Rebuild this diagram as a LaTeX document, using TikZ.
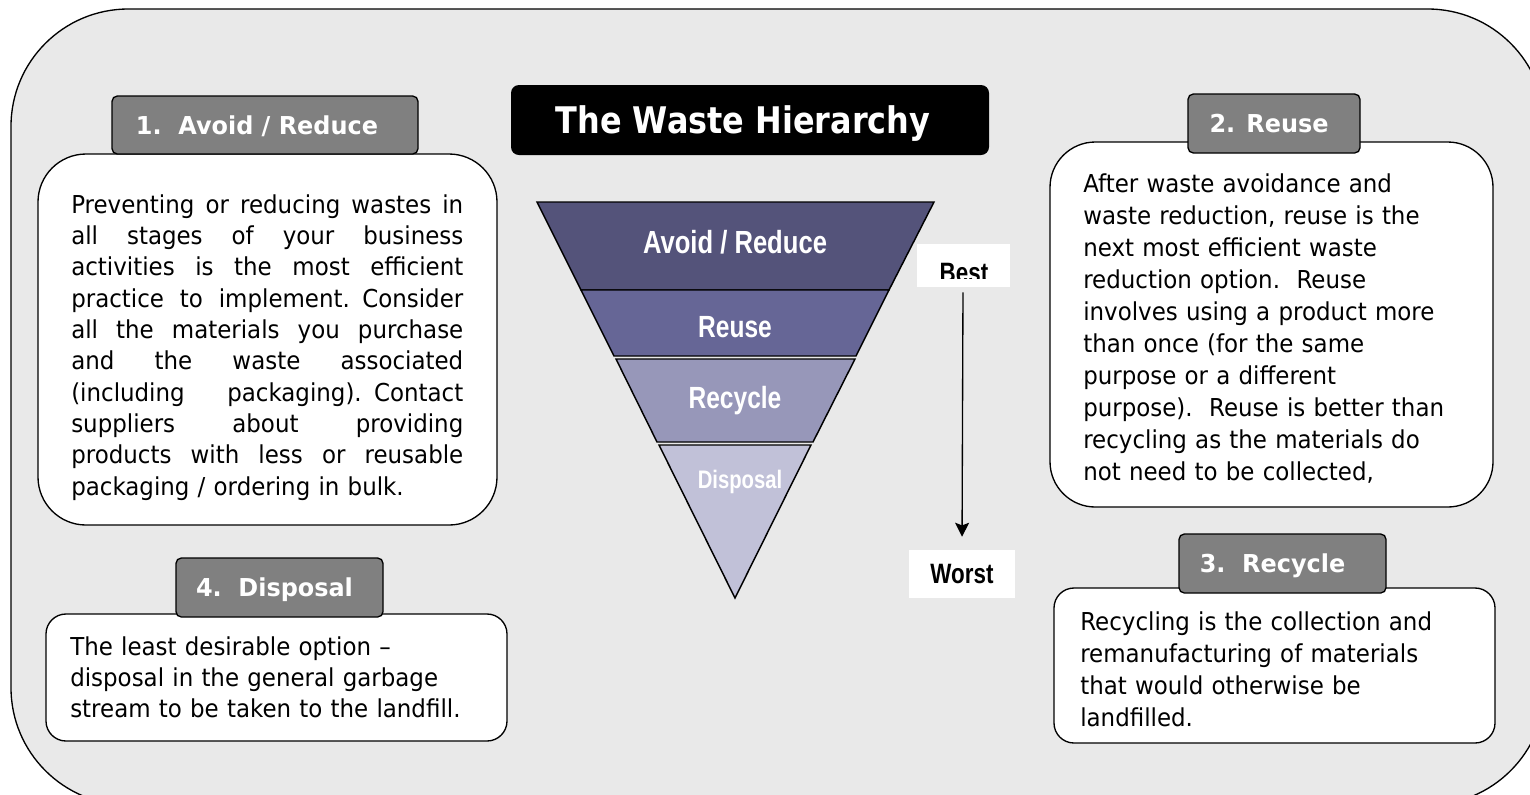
\documentclass[tikz,border=0pt]{standalone}
\usepackage{fontspec}
\usepackage{tikz}
\usetikzlibrary{arrows.meta,calc}
\newfontfamily\bodyfont[FakeStretch=0.93]{DejaVu Sans}
\newfontfamily\tabfont[FakeStretch=0.97]{DejaVu Sans}
\newfontfamily\titlefont[FakeStretch=0.87]{DejaVu Sans}
\newfontfamily\funnelfont[FakeStretch=0.8]{Liberation Sans}
\definecolor{bggray}{HTML}{E9E9E9}
\definecolor{tabgray}{HTML}{808080}
\definecolor{avoidcol}{HTML}{54537A}
\definecolor{reusecol}{HTML}{666696}
\definecolor{recyclecol}{HTML}{9797B9}
\definecolor{disposalcol}{HTML}{C1C1D8}
\newcommand{\jline}[1]{\leavevmode\hbox to 294pt{\spaceskip=0.3em plus 1fil\relax #1}}
\tikzset{
  panel/.style={draw, fill=white, line width=1pt, rounded corners=#1, inner sep=0pt},
  tab/.style={draw, fill=tabgray, line width=1pt, rounded corners=4pt, inner sep=0pt, text depth=0pt,
    text=white, font=\tabfont\bfseries\fontsize{18.5}{22}\selectfont},
  bodytext/.style={anchor=base west, inner sep=0pt, align=left, font=\bodyfont\fontsize{18.5}{#1}\selectfont},
  bodytext/.default=23.5,
  tier/.style={draw, line width=1.1pt},
  tiertext/.style={anchor=base, text=white, font=\funnelfont\bfseries\fontsize{#1}{#1}\selectfont},
  scale label/.style={fill=white, inner sep=0pt, font=\funnelfont\bfseries\fontsize{21}{21}\selectfont}
}

\begin{document}
\begin{tikzpicture}[x=0.75pt, y=-0.75pt]
    \useasboundingbox (0,0) rectangle (1530,794);
    % grey background panel
    \draw[fill=bggray, line width=1pt, rounded corners=88pt] (11,9) rectangle (1545,805);

    % 1. avoid / reduce
    \node[panel=36pt, minimum width=344.25pt, minimum height=278.25pt] (avoidbox) at (267.5,339.5) {};
    \node[tab, minimum width=229.5pt, minimum height=43.5pt] (avoidtab) at (265,125) {1.\ \ Avoid / Reduce\hspace*{12pt}};
    \node[bodytext, text width=294pt] (avoidtext) at (71,213) {\jline{Preventing or reducing wastes in}\\
      \jline{all stages of your business}\\ \jline{activities is the most efficient}\\
      \jline{practice to implement. Consider}\\ \jline{all the materials you purchase}\\
      \jline{and the waste associated}\\ \jline{(including packaging). Contact}\\
      \jline{suppliers about providing}\\ \jline{products with less or reusable}\\
      packaging / ordering in bulk.};

    % 2. reuse
    \node[panel=34pt, minimum width=332.25pt, minimum height=273.75pt] (reusebox) at (1271.5,324.5) {};
    \node[tab, minimum width=129pt, minimum height=44.25pt] (reusetab) at (1274,123.5) {2. Reuse\hspace*{7.5pt}};
    \node[bodytext=24, text width=315pt] (reusetext) at (1083,192) {After waste avoidance and\\
      waste reduction, reuse is the\\ next most efficient waste\\ reduction option.\ \ Reuse\\
      involves using a product more\\ than once (for the same\\ purpose or a different\\
      purpose).\ \ Reuse is better than\\ recycling as the materials do\\ not need to be collected,};

    % 4. disposal
    \node[panel=15pt, minimum width=345.75pt, minimum height=95.25pt] (disposalbox) at (276.5,677.5) {};
    \node[tab, minimum width=155.25pt, minimum height=44.25pt] (disposaltab) at (279.5,587.5) {4.\ \ Disposal\hspace*{7.5pt}};
    \node[bodytext, text width=325pt] (disposaltext) at (70,655) {The least desirable option –\\
      disposal in the general garbage\\ stream to be taken to the landfill.};

    % 3. recycle
    \node[panel=15pt, minimum width=330.75pt, minimum height=116.25pt] (recyclebox) at (1274.5,665.5) {};
    \node[tab, minimum width=155.25pt, minimum height=44.25pt] (recycletab) at (1282.5,563.5) {3.\ \ Recycle\hspace*{15pt}};
    \node[bodytext=24, text width=315pt] (recycletext) at (1080,630) {Recycling is the collection and\\
      remanufacturing of materials\\ that would otherwise be\\ landfilled.};

    % title
    \node[fill=black, rounded corners=6pt, minimum width=358.5pt, minimum height=52.5pt, text depth=0pt,
      text=white, font=\titlefont\bfseries\fontsize{27.5}{30}\selectfont] (title) at (750,120) {The Waste Hierarchy\hspace*{10.5pt}};

    % the funnel
    \draw[tier, fill=avoidcol] (537,202) -- (934,202) -- (889,290) -- (581,290) -- cycle;
    \draw[tier, fill=reusecol] (581,290) -- (889,290) -- (856,356) -- (614,356) -- cycle;
    \draw[tier, fill=recyclecol] (616,359) -- (855,359) -- (813,442) -- (657,442) -- cycle;
    \draw[tier, fill=disposalcol] (659,445) -- (811,445) -- (735,598) -- cycle;
    \node[tiertext=24] (avoidlabel) at (735,253) {Avoid / Reduce};
    \node[tiertext=23] (reuselabel) at (735,337) {Reuse};
    \node[tiertext=23] (recyclelabel) at (735,408) {Recycle};
    \node[tiertext=19] (disposallabel) at (740,488) {Disposal};

    % best to worst
    \node[scale label, minimum width=69.75pt, minimum height=32.25pt] (best) at (963,265.5) {};
    \begin{scope}
      \clip (916,244) rectangle (1010,278);
      \node[scale label, anchor=base] (besttext) at (964,282) {Best};
    \end{scope}
    \node[scale label, minimum width=79.5pt, minimum height=36pt, text depth=0pt] (worst) at (962,574) {Worst};
    \draw[line width=1pt, -{Stealth[length=10.5pt, width=10.5pt, inset=2pt]}, shorten <=3.75pt, shorten >=9.75pt]
      (best.south) -- (worst.north);
\end{tikzpicture}
\end{document}
